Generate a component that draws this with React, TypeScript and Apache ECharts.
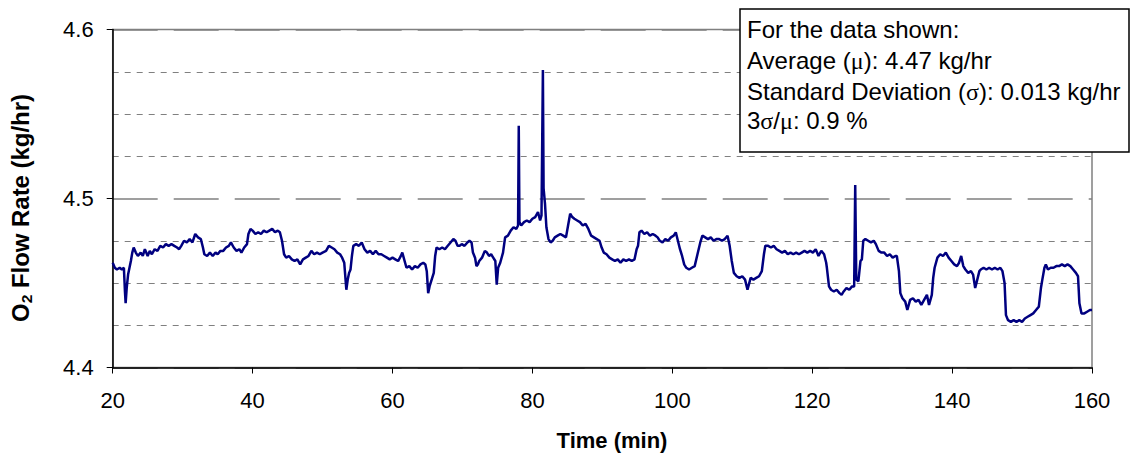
import React, { useEffect, useRef } from "react";
import * as echarts from "echarts";

// Time (min) and O2 flow rate (kg/hr)
const timeMin: number[] = [
  20.0, 20.3, 20.6, 21.0, 21.3, 21.6, 21.75, 21.85, 22.0, 22.2, 22.4, 22.6, 22.8, 23.0, 23.3, 23.6, 24.0, 24.3, 24.6, 25.0,
  25.3, 25.6, 26.0, 26.4, 26.8, 27.2, 27.6, 28.0, 28.4, 28.8, 29.2, 29.5, 29.8, 30.2, 30.6, 31.0, 31.4, 31.8, 32.2, 32.6,
  32.9, 33.1, 33.5, 33.9, 34.3, 34.7, 35.0, 35.4, 35.8, 36.2, 36.6, 36.9, 37.3, 37.7, 38.1, 38.4, 38.8, 39.2, 39.4, 39.7,
  40.0, 40.4, 40.8, 41.2, 41.6, 42.0, 42.4, 42.8, 43.2, 43.6, 43.9, 44.2, 44.5, 44.8, 45.2,
  45.6, 46.0, 46.4, 46.8, 47.2, 47.6, 48.0, 48.4, 48.8, 49.2, 49.6, 50.0, 50.5, 50.9, 51.3, 51.7, 52.1, 52.5, 52.8, 53.1,
  53.4, 53.6, 53.8, 54.0, 54.2, 54.4, 54.8, 55.2, 55.6, 56.0, 56.4, 56.8, 57.2, 57.6, 58.0, 58.4, 58.8, 59.2, 59.6, 60.0,
  60.4, 60.8, 61.2, 61.4, 61.8, 62.0, 62.4, 62.8, 63.2, 63.6, 64.0, 64.4, 64.7, 64.9, 65.1, 65.3, 65.6, 65.9, 66.1, 66.3,
  66.7, 67.1, 67.5, 67.9, 68.3, 68.7, 69.0, 69.3, 69.6,
  69.9, 70.3, 70.7, 71.0, 71.3, 71.5, 71.8, 72.0, 72.2, 72.4, 72.8, 73.2, 73.5, 73.8, 74.1, 74.4, 74.7, 74.9, 75.1, 75.4,
  75.8, 76.1, 76.5, 76.9, 77.3, 77.7, 77.95, 78.05, 78.15, 78.4, 78.8, 79.2, 79.6, 80.0, 80.4, 80.8, 81.1, 81.3, 81.5, 81.6,
  81.8, 82.0, 82.3, 82.6, 82.9, 83.2, 83.6, 84.0, 84.4, 84.8, 85.1, 85.4, 85.7, 86.0, 86.4, 86.8, 87.2, 87.6, 88.0, 88.4,
  88.8, 89.2, 89.6, 89.9, 90.2, 90.6, 91.0, 91.4, 91.8, 92.2, 92.6, 93.0, 93.4, 93.8, 94.2,
  94.6, 94.9, 95.1, 95.3, 95.6, 96.0, 96.4, 96.8, 97.2, 97.6, 97.9, 98.2, 98.6, 99.0, 99.4, 99.8, 100.2, 100.5, 100.8, 101.1,
  101.4, 101.7, 102.0, 102.4, 102.8, 103.2, 103.6, 104.0, 104.3, 104.7, 105.1, 105.5, 105.9, 106.3, 106.7, 107.1, 107.5, 107.9, 108.2, 108.5,
  108.8, 109.2, 109.6, 110.0, 110.4, 110.75, 111.2, 111.6, 112.0, 112.4, 112.8, 113.1, 113.3, 113.7, 114.1, 114.5, 114.9, 115.3, 115.7, 116.1,
  116.5, 116.9, 117.3, 117.7,
  118.1, 118.5, 118.9, 119.3, 119.7, 120.1, 120.5, 120.9, 121.3, 121.7, 122.0, 122.1, 122.4, 122.7, 123.1, 123.5, 123.9, 124.2, 124.5, 124.9,
  125.3, 125.7, 126.0, 126.15, 126.3, 126.6, 126.9, 127.1, 127.3, 127.6, 128.0, 128.4, 128.8, 129.1, 129.5, 129.9, 130.3, 130.7, 131.1, 131.5,
  131.9, 132.1, 132.4, 132.6, 132.9, 133.3, 133.6, 134.0, 134.4, 134.8, 135.2, 135.6, 136.0, 136.4, 136.7, 137.1, 137.3, 137.5, 137.9, 138.3,
  138.7, 139.1, 139.5, 139.9, 140.3, 140.7, 141.0, 141.3, 141.6, 141.9, 142.3, 142.7, 143.0, 143.3, 143.6, 143.9, 144.1, 144.5, 144.9, 145.3,
  145.7, 146.1, 146.5, 146.9, 147.2, 147.5, 147.7, 148.0, 148.4, 148.8, 149.2, 149.6, 150.0, 150.4, 150.8, 151.2, 151.6, 152.0, 152.4, 152.7,
  152.9, 153.2, 153.4, 153.7, 154.1, 154.5, 154.9, 155.3, 155.7, 156.1, 156.5, 156.9, 157.3, 157.7, 158.0, 158.2, 158.5, 158.9, 159.3, 159.7,
  160.0,
];

const o2Flow: number[] = [
  4.462, 4.459, 4.458, 4.459, 4.458, 4.459, 4.445, 4.438, 4.447, 4.455, 4.459, 4.463, 4.468, 4.471, 4.468, 4.466, 4.468, 4.466, 4.470, 4.466,
  4.469, 4.467, 4.470, 4.469, 4.472, 4.471, 4.473, 4.472, 4.473, 4.472, 4.471, 4.470, 4.472, 4.475, 4.474, 4.476, 4.474, 4.479, 4.477, 4.476,
  4.471, 4.467, 4.466, 4.468, 4.466, 4.468, 4.467, 4.469, 4.469, 4.471, 4.472, 4.474, 4.471, 4.469, 4.470, 4.468, 4.471, 4.473, 4.479, 4.482,
  4.481, 4.479, 4.480, 4.479, 4.481, 4.480, 4.481, 4.482, 4.480, 4.481, 4.480, 4.475, 4.467, 4.465, 4.466,
  4.464, 4.463, 4.464, 4.461, 4.464, 4.465, 4.466, 4.469, 4.467, 4.468, 4.467, 4.468, 4.469, 4.472, 4.471, 4.470, 4.468, 4.467, 4.465, 4.462,
  4.446, 4.452, 4.456, 4.458, 4.466, 4.472, 4.473, 4.472, 4.474, 4.470, 4.468, 4.469, 4.467, 4.469, 4.467, 4.467, 4.466, 4.465, 4.464, 4.465,
  4.464, 4.463, 4.466, 4.468, 4.462, 4.459, 4.460, 4.458, 4.460, 4.459, 4.461, 4.462, 4.461, 4.457, 4.444, 4.448, 4.452, 4.456, 4.466, 4.471,
  4.470, 4.471, 4.470, 4.472, 4.474, 4.476, 4.475, 4.472, 4.472,
  4.473, 4.472, 4.474, 4.475, 4.474, 4.468, 4.465, 4.460, 4.461, 4.463, 4.465, 4.469, 4.468, 4.466, 4.467, 4.465, 4.463, 4.449, 4.459, 4.462,
  4.468, 4.477, 4.478, 4.481, 4.483, 4.482, 4.484, 4.543, 4.486, 4.484, 4.486, 4.487, 4.486, 4.488, 4.489, 4.492, 4.487, 4.490, 4.576, 4.506,
  4.497, 4.483, 4.476, 4.474, 4.475, 4.477, 4.478, 4.479, 4.478, 4.477, 4.484, 4.491, 4.489, 4.488, 4.487, 4.486, 4.484, 4.485, 4.482, 4.478,
  4.477, 4.476, 4.475, 4.471, 4.468, 4.467, 4.465, 4.464, 4.463, 4.464, 4.462, 4.464, 4.463, 4.464, 4.463,
  4.464, 4.470, 4.472, 4.480, 4.481, 4.479, 4.480, 4.478, 4.479, 4.478, 4.477, 4.475, 4.474, 4.476, 4.475, 4.477, 4.478, 4.480, 4.475, 4.470,
  4.466, 4.461, 4.459, 4.458, 4.459, 4.460, 4.467, 4.474, 4.478, 4.477, 4.476, 4.477, 4.475, 4.476, 4.476, 4.475, 4.476, 4.478, 4.472, 4.463,
  4.456, 4.454, 4.453, 4.454, 4.452, 4.446, 4.453, 4.452, 4.453, 4.454, 4.457, 4.467, 4.472, 4.472, 4.471, 4.472, 4.470, 4.469, 4.468, 4.469,
  4.467, 4.468, 4.467, 4.468,
  4.467, 4.468, 4.469, 4.468, 4.469, 4.468, 4.470, 4.466, 4.469, 4.467, 4.462, 4.459, 4.448, 4.446, 4.445, 4.446, 4.444, 4.443, 4.445, 4.447,
  4.446, 4.448, 4.448, 4.508, 4.452, 4.451, 4.463, 4.464, 4.475, 4.476, 4.475, 4.474, 4.475, 4.473, 4.469, 4.468, 4.468, 4.466, 4.467, 4.465,
  4.466, 4.466, 4.457, 4.444, 4.441, 4.439, 4.434, 4.440, 4.441, 4.439, 4.440, 4.437, 4.440, 4.443, 4.437, 4.443, 4.453, 4.459, 4.465, 4.467,
  4.466, 4.468, 4.465, 4.463, 4.461, 4.460, 4.462, 4.466, 4.460, 4.458, 4.456, 4.457, 4.455, 4.447, 4.452, 4.457, 4.458, 4.459, 4.458, 4.459,
  4.458, 4.459, 4.458, 4.459, 4.457, 4.450, 4.431, 4.428, 4.427, 4.428, 4.427, 4.428, 4.427, 4.429, 4.430, 4.431, 4.432, 4.434, 4.436, 4.447,
  4.452, 4.459, 4.461, 4.458, 4.459, 4.459, 4.460, 4.460, 4.461, 4.460, 4.461, 4.460, 4.458, 4.456, 4.454, 4.438, 4.432, 4.432, 4.433, 4.434,
  4.434,
];

const xTickLabels = { min: 20, max: 160, step: 20 };
const yTickLabels = { min: 4.4, max: 4.6, step: 0.1, minorSplits: 4 };

const statLines: string[] = [
  "For the data shown:",
  "Average ({g|\u03bc}): 4.47 kg/hr",
  "Standard Deviation ({g|\u03c3}): 0.013 kg/hr",
  "3{g|\u03c3}/{g|\u03bc}: 0.9 %",
];

const yTitle = "O{s|2} Flow Rate (kg/hr)";
const xTitle = "Time (min)";

const FONT = "'Liberation Sans', Arial, sans-serif";

export default function App() {
  const ref = useRef<HTMLDivElement>(null);

  useEffect(() => {
    document.body.style.margin = "0";
    if (!ref.current) return;
    const chart = echarts.init(ref.current, null, { renderer: "svg" });

    const seriesData = timeMin.map((t, i) => [t, o2Flow[i]]);

    const boxX = 740;
    const boxY = 9;
    const textX = 747;
    const lineYs = [30, 61, 92, 121];

    const option: any = {
      animation: false,
      backgroundColor: "#ffffff",
      grid: {
        left: 112.7,
        right: 39,
        top: 29.5,
        bottom: 95.5,
        show: true,
        borderColor: "#808080",
        borderWidth: 1.5,
        backgroundColor: "transparent",
      },
      xAxis: {
        type: "value",
        min: xTickLabels.min,
        max: xTickLabels.max,
        interval: xTickLabels.step,
        axisLine: { show: true, onZero: false, lineStyle: { color: "#000", width: 1.5 } },
        axisTick: { show: true, inside: false, length: 6, lineStyle: { color: "#000", width: 1 } },
        axisLabel: { fontSize: 22, color: "#000", fontFamily: FONT, margin: 22 },
        splitLine: { show: false },
      },
      yAxis: {
        type: "value",
        min: yTickLabels.min,
        max: yTickLabels.max,
        interval: yTickLabels.step,
        axisLine: { show: true, onZero: false, lineStyle: { color: "#000", width: 1.5 } },
        axisTick: { show: true, inside: false, length: 6, lineStyle: { color: "#000", width: 1 } },
        axisLabel: {
          fontSize: 22,
          color: "#000",
          fontFamily: FONT,
          margin: 19,
          formatter: (v: number) => v.toFixed(1),
        },
        splitLine: { show: true, lineStyle: { color: "#808080", type: [45, 16], width: 1.5 } },
        minorTick: { show: false, splitNumber: yTickLabels.minorSplits },
        minorSplitLine: { show: true, lineStyle: { color: "#808080", type: [6, 6], width: 1 } },
      },
      series: [
        {
          type: "line",
          data: seriesData,
          showSymbol: false,
          symbol: "none",
          lineStyle: { color: "#000080", width: 2.5 },
          z: 3,
        },
      ],
      graphic: [
        {
          type: "text",
          x: 21,
          y: 208,
          rotation: Math.PI / 2,
          scaleX: 1.04,
          style: {
            text: yTitle,
            fontFamily: FONT,
            fontSize: 23,
            fontWeight: "bold",
            fill: "#000",
            align: "center",
            verticalAlign: "middle",
            lineHeight: 27,
            rich: {
              s: { fontSize: 15, fontWeight: "bold", fontFamily: FONT, verticalAlign: "bottom", lineHeight: 17 },
            },
          },
        },
        {
          type: "text",
          x: 612,
          y: 440,
          style: {
            text: xTitle,
            fontFamily: FONT,
            fontSize: 22,
            fontWeight: "bold",
            fill: "#000",
            align: "center",
            verticalAlign: "middle",
          },
        },
        {
          type: "rect",
          shape: { x: boxX, y: boxY, width: 1129 - boxX, height: 143 },
          style: { fill: "#ffffff", stroke: "#000", lineWidth: 1.5 },
          z: 10,
        },
        ...statLines.map((line, i) => ({
          type: "text",
          x: textX,
          y: lineYs[i],
          scaleX: 1.045,
          z: 11,
          style: {
            text: line,
            fontFamily: FONT,
            fontSize: 23,
            fill: "#000",
            align: "left",
            verticalAlign: "middle",
            rich: {
              g: { fontFamily: "'Liberation Serif', serif", fontSize: 23, fill: "#000" },
            },
          },
        })),
      ],
    };

    chart.setOption(option);
    return () => {
      chart.dispose();
    };
  }, []);

  return <div ref={ref} style={{ width: 1131, height: 463 }} />;
}
